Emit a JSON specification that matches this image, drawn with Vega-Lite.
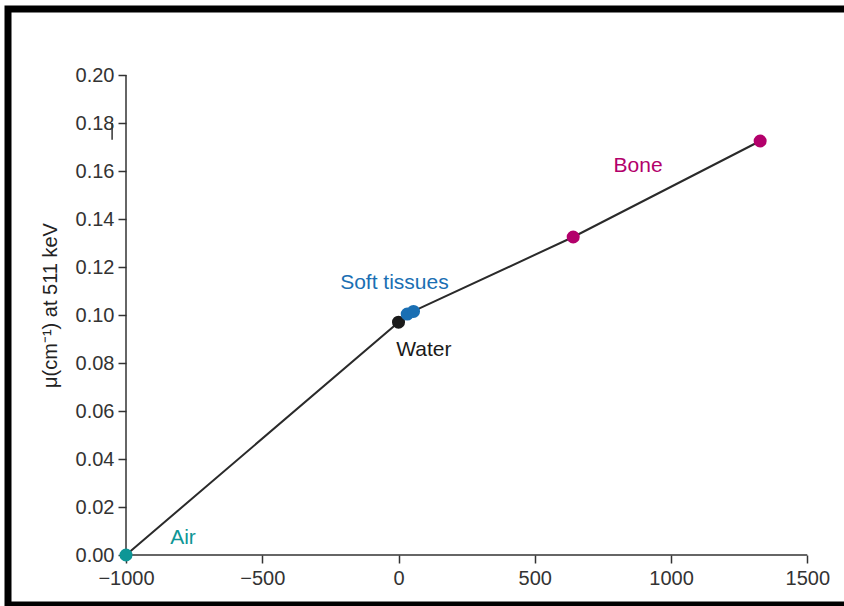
{
  "$schema": "https://vega.github.io/schema/vega-lite/v6.json",
  "autosize": {"type": "none"},
  "padding": {"left": 8, "top": 9, "right": -6, "bottom": 1},
  "width": 842,
  "height": 596,
  "background": "white",
  "config": {
    "font": "Liberation Sans",
    "view": {"stroke": "black", "strokeWidth": 7},
    "axis": {"grid": false, "domain": false, "labelFont": "Liberation Sans", "labelFontSize": 20, "labelColor": "#333", "tickColor": "#333", "tickWidth": 1.5, "tickSize": 8}
  },
  "datasets": {
    "axes": [
      {"x": -1000, "x2": -1000, "y": 0, "y2": 0.2},
      {"x": -1000, "x2": 1500, "y": 0, "y2": 0},
      {"x": -1051, "x2": -1051, "y": 0.173, "y2": 0.18}
    ],
    "curve": [
      {"hu": -1000, "mu": 0.0},
      {"hu": 0, "mu": 0.097},
      {"hu": 28, "mu": 0.1004},
      {"hu": 57, "mu": 0.1017},
      {"hu": 641, "mu": 0.1325},
      {"hu": 1327, "mu": 0.1725}
    ],
    "points": [
      {"hu": -1000, "mu": 0.0, "tissue": "Air"},
      {"hu": 0, "mu": 0.097, "tissue": "Water"},
      {"hu": 32, "mu": 0.1004, "tissue": "Soft tissues"},
      {"hu": 55, "mu": 0.1015, "tissue": "Soft tissues"},
      {"hu": 641, "mu": 0.1325, "tissue": "Bone"},
      {"hu": 1327, "mu": 0.1725, "tissue": "Bone"}
    ],
    "labels": [
      {"hu": -791, "mu": 0.0071, "text": "Air", "tissue": "Air"},
      {"hu": -15, "mu": 0.1135, "text": "Soft tissues", "tissue": "Soft tissues"},
      {"hu": 93, "mu": 0.0855, "text": "Water", "tissue": "Water"},
      {"hu": 879, "mu": 0.1622, "text": "Bone", "tissue": "Bone"}
    ]
  },
  "layer": [
    {
      "data": {"name": "axes"},
      "mark": {"type": "rule", "color": "#333", "strokeWidth": 1.5},
      "encoding": {
        "x": {
          "field": "x", "type": "quantitative",
          "scale": {"domain": [-1433, 1656.7], "nice": false, "zero": false},
          "axis": {"values": [-1000, -500, 0, 500, 1000, 1500], "format": "d", "offset": -50, "labelPadding": 5, "title": null}
        },
        "x2": {"field": "x2"},
        "y": {
          "field": "y", "type": "quantitative",
          "scale": {"domain": [-0.02083, 0.2275], "nice": false, "zero": false},
          "axis": {
            "values": [0, 0.02, 0.04, 0.06, 0.08, 0.1, 0.12, 0.14, 0.16, 0.18, 0.2],
            "format": ".2f", "offset": -118, "labelPadding": 4,
            "title": "μ(cm⁻¹) at 511 keV", "titleFont": "Liberation Sans", "titleFontSize": 20, "titleFontWeight": "normal",
            "titleColor": "#222", "titleAngle": -90, "titleX": -76, "titleY": 296, "titleAlign": "center", "titleBaseline": "middle"
          }
        },
        "y2": {"field": "y2"}
      }
    },
    {
      "data": {"name": "curve"},
      "mark": {"type": "line", "color": "#2a2a2a", "strokeWidth": 2},
      "encoding": {
        "x": {"field": "hu", "type": "quantitative"},
        "y": {"field": "mu", "type": "quantitative"}
      }
    },
    {
      "data": {"name": "points"},
      "mark": {"type": "point", "filled": true, "opacity": 1, "size": 170},
      "encoding": {
        "x": {"field": "hu", "type": "quantitative"},
        "y": {"field": "mu", "type": "quantitative"},
        "color": {
          "field": "tissue", "type": "nominal", "legend": null,
          "scale": {"domain": ["Air", "Water", "Soft tissues", "Bone"], "range": ["#0e9696", "#1a1a1a", "#1a6fb3", "#b3006b"]}
        }
      }
    },
    {
      "data": {"name": "labels"},
      "mark": {"type": "text", "font": "Liberation Sans", "fontSize": 21, "align": "center", "baseline": "middle"},
      "encoding": {
        "x": {"field": "hu", "type": "quantitative"},
        "y": {"field": "mu", "type": "quantitative"},
        "text": {"field": "text"},
        "color": {"field": "tissue", "type": "nominal", "legend": null}
      }
    }
  ]
}
